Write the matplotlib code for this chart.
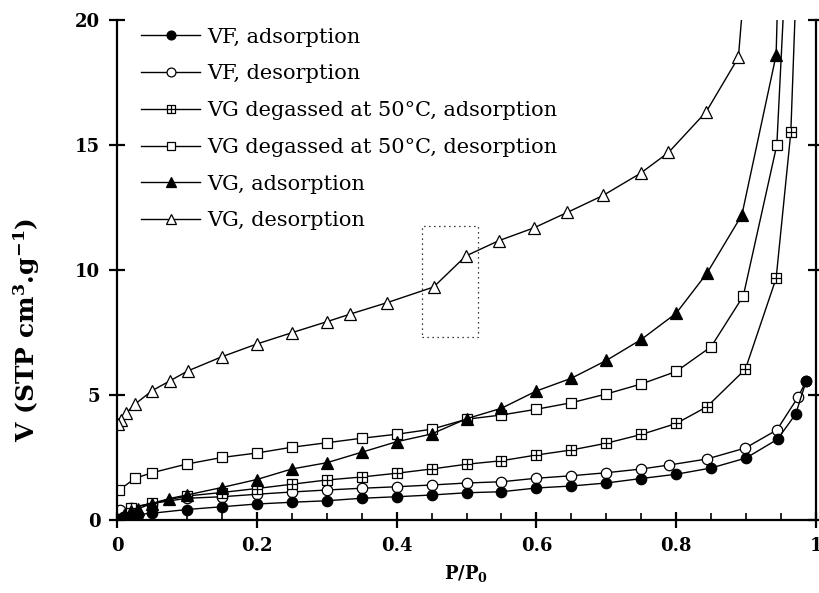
import matplotlib
matplotlib.use('Agg')
import matplotlib.pyplot as plt
from matplotlib.path import Path
from matplotlib.patches import Rectangle
from matplotlib.ticker import MultipleLocator, FuncFormatter

plt.rcParams['font.family'] = ['DejaVu Serif']
plt.rcParams['mathtext.fontset'] = 'dejavuserif'

# P/P0 and adsorbed volume (STP cm3/g)
vf_ads_x = [0.003, 0.01, 0.02, 0.03, 0.05, 0.10, 0.15, 0.20, 0.25, 0.30, 0.35, 0.40, 0.45,
            0.50, 0.55, 0.60, 0.65, 0.70, 0.75, 0.80, 0.85, 0.90, 0.945, 0.971, 0.986]
vf_ads_y = [0.05, 0.12, 0.18, 0.22, 0.27, 0.42, 0.53, 0.64, 0.71, 0.77, 0.87, 0.93, 1.00,
            1.09, 1.13, 1.28, 1.36, 1.48, 1.66, 1.83, 2.08, 2.48, 3.23, 4.24, 5.56]

vf_des_x = [0.986, 0.974, 0.944, 0.899, 0.844, 0.79, 0.75, 0.70, 0.65, 0.60, 0.55, 0.50, 0.45,
            0.40, 0.35, 0.30, 0.25, 0.20, 0.15, 0.10, 0.05, 0.02, 0.004]
vf_des_y = [5.56, 4.90, 3.60, 2.88, 2.44, 2.20, 2.04, 1.89, 1.77, 1.67, 1.53, 1.48, 1.40,
            1.33, 1.27, 1.20, 1.12, 1.03, 0.93, 0.87, 0.66, 0.48, 0.40]

vg50_ads_x = [0.003, 0.02, 0.05, 0.10, 0.15, 0.20, 0.25, 0.30, 0.35, 0.40, 0.45, 0.50, 0.55,
              0.60, 0.65, 0.70, 0.75, 0.80, 0.844, 0.899, 0.943, 0.964, 0.975]
vg50_ads_y = [0.05, 0.50, 0.67, 0.96, 1.10, 1.26, 1.43, 1.60, 1.72, 1.87, 2.04, 2.23, 2.37,
              2.60, 2.80, 3.07, 3.42, 3.86, 4.53, 6.03, 9.67, 15.5, 24.0]

vg50_des_x = [0.96, 0.944, 0.896, 0.85, 0.80, 0.75, 0.70, 0.65, 0.60, 0.55, 0.50, 0.45, 0.40,
              0.35, 0.30, 0.25, 0.20, 0.15, 0.10, 0.05, 0.026, 0.003]
vg50_des_y = [24.0, 15.0, 8.96, 6.93, 5.94, 5.44, 5.04, 4.69, 4.43, 4.20, 4.03, 3.63, 3.43,
              3.27, 3.09, 2.91, 2.68, 2.50, 2.24, 1.89, 1.67, 1.20]

vg_ads_x = [0.005, 0.01, 0.02, 0.03, 0.05, 0.075, 0.10, 0.15, 0.20, 0.25, 0.30, 0.35, 0.40,
            0.45, 0.50, 0.55, 0.60, 0.65, 0.70, 0.75, 0.80, 0.844, 0.894, 0.943, 0.949]
vg_ads_y = [0.10, 0.20, 0.35, 0.45, 0.66, 0.86, 1.00, 1.30, 1.62, 2.04, 2.29, 2.71, 3.13,
            3.44, 4.05, 4.47, 5.16, 5.67, 6.38, 7.22, 8.27, 9.87, 12.2, 18.6, 25.0]

vg_des_x = [0.905, 0.889, 0.843, 0.789, 0.749, 0.696, 0.644, 0.596, 0.546, 0.499, 0.453,
            0.386, 0.334, 0.30, 0.25, 0.20, 0.15, 0.101, 0.076, 0.05, 0.026, 0.013, 0.006, 0.002]
vg_des_y = [24.0, 18.5, 16.33, 14.7, 13.87, 12.99, 12.3, 11.68, 11.17, 10.56, 9.32,
            8.69, 8.24, 7.93, 7.49, 7.04, 6.53, 5.96, 5.57, 5.17, 4.64, 4.28, 4.0, 3.85]

labels = ['VF, adsorption', 'VF, desorption',
          'VG degassed at 50°C, adsorption', 'VG degassed at 50°C, desorption',
          'VG, adsorption', 'VG, desorption']

# highlighted region (dotted box)
box_x = (0.437, 0.517)
box_y = (7.33, 11.77)

# square with a cross inside
boxplus = Path([(-1, -1), (1, -1), (1, 1), (-1, 1), (-1, -1), (0, -1), (0, 1), (-1, 0), (1, 0)],
               [Path.MOVETO, Path.LINETO, Path.LINETO, Path.LINETO, Path.CLOSEPOLY,
                Path.MOVETO, Path.LINETO, Path.MOVETO, Path.LINETO])

fig = plt.figure(figsize=(8.19, 5.93), dpi=100)
ax = fig.add_axes([0.1429, 0.1231, 0.8534, 0.8432])

common = dict(color='black', lw=1.0, mec='black', mew=0.9)
ax.plot(vf_ads_x, vf_ads_y, marker='o', ms=7.5, mfc='black', label=labels[0], zorder=3, **common)
ax.plot(vf_des_x, vf_des_y, marker='o', ms=7.5, mfc='white', label=labels[1], **common)
ax.plot(vg50_ads_x, vg50_ads_y, marker=boxplus, ms=7.5, mfc='white', label=labels[2], **common)
ax.plot(vg50_des_x, vg50_des_y, marker='s', ms=7.5, mfc='white', label=labels[3], **common)
ax.plot(vg_ads_x, vg_ads_y, marker='^', ms=8, mfc='black', label=labels[4], **common)
ax.plot(vg_des_x, vg_des_y, marker='^', ms=8, mfc='white', label=labels[5], **common)

ax.add_patch(Rectangle((box_x[0], box_y[0]), box_x[1] - box_x[0], box_y[1] - box_y[0],
                       fill=False, ec='black', lw=0.9, ls=(0, (1, 3))))

ax.set_xlim(0, 1)
ax.set_ylim(0, 20)
ax.spines['top'].set_visible(False)
for s in ['left', 'bottom', 'right']:
    ax.spines[s].set_linewidth(1.6)

ax.xaxis.set_major_locator(MultipleLocator(0.2))
ax.xaxis.set_minor_locator(MultipleLocator(0.05))
ax.yaxis.set_major_locator(MultipleLocator(5))
ax.xaxis.set_major_formatter(FuncFormatter(lambda v, p: '%g' % round(v, 2)))
ax.tick_params(axis='both', which='major', direction='inout', length=12, width=1.6,
               labelsize=13, pad=6)
ax.tick_params(axis='x', which='minor', direction='in', length=5, width=1.2)
ax.tick_params(axis='y', right=True, labelright=False)
for lab in ax.get_xticklabels() + ax.get_yticklabels():
    lab.set_fontweight('bold')

ax.set_xlabel(r'P/P$_\mathbf{0}$', fontsize=13, fontweight='bold', labelpad=6)
ax.set_ylabel(r'V (STP cm$^\mathbf{3}$.g$^\mathbf{-1}$)', fontsize=18, fontweight='bold')
ax.yaxis.set_label_coords(-0.108, 0.38)

ax.legend(loc='upper left', bbox_to_anchor=(0.008, 1.022), frameon=False, fontsize=15,
          handlelength=2.8, handletextpad=0.35, labelspacing=0.85, numpoints=1,
          markerscale=0.85)

fig.savefig('out.png', dpi=100)
